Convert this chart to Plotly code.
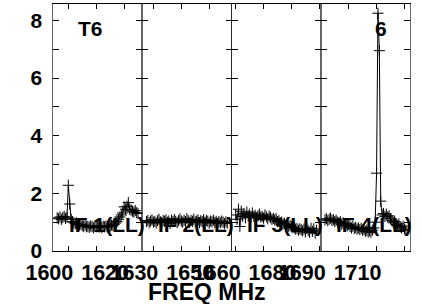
import plotly.graph_objects as go
from plotly.subplots import make_subplots

# ---- data ----
if_starts = [1594.5, 1626.0, 1658.5, 1690.0]   # MHz, channel 0 of each IF
chan_width = 0.5                                # MHz
first_chan = 3
if_names = ["IF 1(LL)", "IF 2(LL)", "IF 3(LL)", "IF 4(LL)"]

if1 = [1.15, 1.12, 1.18, 1.10, 1.16, 1.20, 1.13, 1.17,
       2.28, 1.63, 1.10,
       1.02, 0.98, 0.95, 0.97, 0.92, 0.90, 0.93,
       0.88, 0.85, 0.90, 0.84, 0.86, 0.82, 0.87, 0.85, 0.80, 0.86, 0.84, 0.88, 0.83,
       0.85, 0.81, 0.86, 0.84, 0.87, 0.83, 0.88, 0.86, 0.90, 0.88, 0.93, 0.97,
       1.02, 1.10, 1.18, 1.25, 1.32,
       1.53, 1.45, 1.55, 1.68, 1.45,
       1.42, 1.38, 1.35, 1.40, 1.33, 1.30]

if2 = [1.02, 1.06, 0.98, 1.04, 1.08, 1.00, 1.03, 0.97, 1.05, 1.10,
       1.01, 0.99, 1.06, 1.03, 1.08, 1.00, 1.04, 0.96, 1.07, 1.02,
       1.09, 1.03, 0.98, 1.05, 1.11, 1.04, 1.00, 1.07, 1.02, 1.12,
       1.05, 0.99, 1.06, 1.03, 1.10, 1.01, 1.04, 1.08, 0.98, 1.05,
       1.02, 1.09, 1.00, 1.06, 1.03, 0.97, 1.04, 1.01, 1.07, 0.99,
       1.03, 0.96, 1.02, 0.98, 1.04, 1.00, 0.95, 1.01, 0.97]

if3 = [1.25, 1.10, 1.45, 0.85, 1.38, 1.20, 1.30, 1.15, 1.35, 1.22, 1.28, 1.18, 1.32, 1.20,
       1.24, 1.15, 1.22, 1.28, 1.18, 1.20, 1.14, 1.25, 1.19, 1.12, 1.21, 1.16, 1.10, 1.13,
       1.08, 1.12, 1.02, 1.05, 0.98, 1.00, 0.94, 0.96, 0.90, 0.92, 0.86, 0.88, 0.84, 0.82,
       0.80, 0.76, 0.78, 0.72, 0.77, 0.74, 0.70, 0.76, 0.66, 0.78, 0.71, 0.65, 0.79, 0.68,
       0.77, 0.62, 0.72]

if4 = [1.08, 1.12, 1.05, 1.10, 1.14, 1.06, 1.09, 1.02, 1.07, 1.00,
       0.97, 1.02, 0.93, 0.98, 0.90, 0.95, 0.88, 0.92,
       0.85, 0.80, 0.86, 0.78, 0.82, 0.76, 0.80, 0.74, 0.79, 0.72,
       0.75, 0.68, 0.72, 0.66, 0.70, 0.65, 0.72, 0.80, 1.00,
       2.70, 8.25, 6.95, 1.73,
       1.25, 1.30, 1.20, 1.28, 1.18, 1.22, 1.12,
       1.05, 0.98, 1.02, 0.92, 0.88, 0.94, 0.84, 0.80, 0.86, 0.76, 0.72]

spectra = [if1, if2, if3, if4]

x_ranges = [[1594.5, 1626.5], [1626.0, 1658.0], [1658.5, 1690.5], [1689.98, 1722.0]]
x_tickvals = [[1600, 1610, 1620], [1630, 1640, 1650],
              [1660, 1670, 1680, 1690], [1690, 1700, 1710, 1720]]
x_ticktext = [["1600", "", "1620"], ["1630", "", "1650"],
              ["1660", "", "1680", ""], ["1690", "", "1710", ""]]
y_tickvals = [0, 1, 2, 3, 4, 5, 6, 7, 8]
y_ticktext = ["0", "", "2", "", "4", "", "6", "", "8"]
y_range = [0, 8.57]

source_name = "T6"
panel_tag = "6"
x_title = "FREQ MHz"

# ---- figure ----
W, H = 422, 304
L, R, T, B = 53, 12, 4, 53
pw, ph = W - L - R, H - T - B

FAM = "Liberation Sans, Arial, sans-serif"
FONT = dict(family=FAM, size=21, color="black", weight="bold")
XFONT = dict(family=FAM, size=21.5, color="black", weight="bold")
TFONT = dict(family=FAM, size=23, color="black", weight="bold")

fig = make_subplots(rows=1, cols=4, shared_yaxes=False, horizontal_spacing=0)

for k, vals in enumerate(spectra):
    freqs = [if_starts[k] + chan_width * (first_chan + i) for i in range(len(vals))]
    fig.add_trace(go.Scatter(
        x=freqs, y=vals, mode="lines+markers",
        line=dict(color="black", width=1),
        marker=dict(symbol="cross-thin-open", size=8, line=dict(color="black", width=1)),
        showlegend=False, hoverinfo="skip"), row=1, col=k + 1)

for k in range(4):
    xa = "xaxis" if k == 0 else f"xaxis{k+1}"
    ya = "yaxis" if k == 0 else f"yaxis{k+1}"
    fig.layout[xa].update(
        domain=[k / 4, (k + 1) / 4], range=x_ranges[k], automargin=False,
        tickmode="array", tickvals=x_tickvals[k], ticktext=x_ticktext[k],
        ticks="inside", ticklen=5, tickwidth=1, tickcolor="black",
        showline=True, linecolor="black", linewidth=1, mirror="ticks",
        showgrid=False, zeroline=False, tickfont=XFONT,
        ticklabelshift=-19, ticklabelstandoff=2)
    fig.layout[ya].update(
        range=y_range, tickmode="array", tickvals=y_tickvals, ticktext=y_ticktext,
        automargin=False,
        ticks="inside", ticklen=6, tickwidth=1, tickcolor="black",
        showline=True, linecolor="black", linewidth=0.6, mirror="ticks",
        showgrid=False, zeroline=False, tickfont=FONT,
        showticklabels=(k == 0), ticklabelstandoff=6)

def px(xp):
    return (xp - L) / pw

def py(yp):
    return (H - B - yp) / ph

ann = []
ann.append(dict(text=source_name, x=px(90), y=py(28), font=FONT))
ann.append(dict(text=panel_tag, x=px(381), y=py(28), font=FONT))
for k, name in enumerate(if_names):
    cx = L + pw * (k + 0.5) / 4 + 9
    ann.append(dict(text=name, x=px(cx), y=py(224), font=FONT))
ann.append(dict(text=x_title, x=px(206.5), y=py(292), font=TFONT))

fig.update_layout(
    template="none",
    width=W, height=H,
    margin=dict(l=L, r=R, t=T, b=B, pad=0),
    paper_bgcolor="white", plot_bgcolor="white",
    hovermode=False,
    annotations=[dict(xref="paper", yref="paper", showarrow=False,
                      xanchor="center", yanchor="middle", **a) for a in ann],
)

fig.write_html("out.html",
               config={"displayModeBar": False, "staticPlot": True},
               post_script="document.body.style.margin='0';document.body.style.overflow='hidden';")
